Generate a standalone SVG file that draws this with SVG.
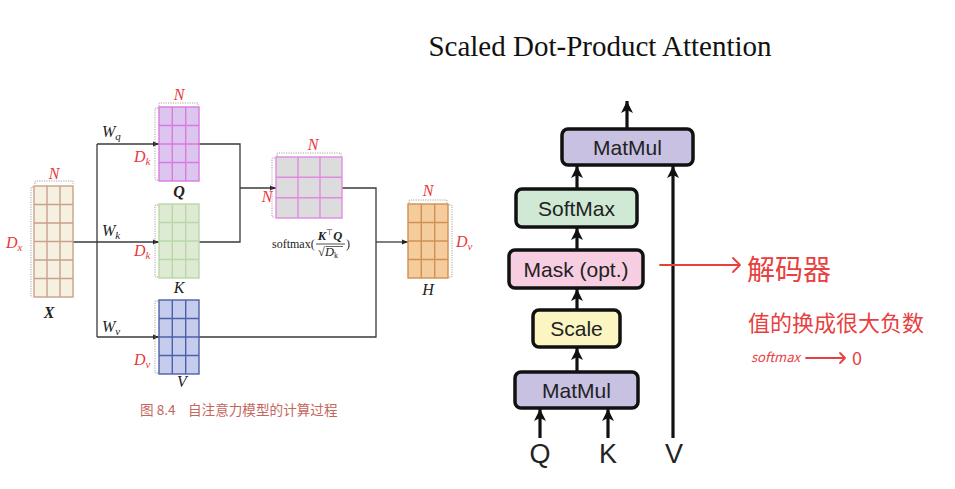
<svg xmlns="http://www.w3.org/2000/svg" width="955" height="489" viewBox="0 0 955 489">
<defs>
<style>
.conn{fill:none;stroke:#3a3a3a;stroke-width:1.3}
.br{fill:none;stroke:#9a9a9a;stroke-width:0.9;stroke-dasharray:1.2 1.2}
.red{fill:#e8383a;font-family:"Liberation Serif",serif;font-style:italic;font-size:16px}
.lbl{fill:#222;font-family:"Liberation Serif",serif;font-style:italic;font-size:16px}
.box{stroke:#111;stroke-width:3.5}
.bt{font-family:"Liberation Sans",Arial,sans-serif;font-size:21px;fill:#222;text-anchor:middle}
.thick{fill:none;stroke:#111;stroke-width:3.2}
.hand{fill:none;stroke:#e8403f;stroke-width:1.8;stroke-linecap:round;stroke-linejoin:round}
.ht{fill:#e8403f;font-family:"Noto Sans CJK SC",sans-serif}
</style>
<marker id="sa" markerUnits="userSpaceOnUse" markerWidth="8" markerHeight="8" refX="6" refY="3" orient="auto">
<path d="M0,0.5 L6,3 L0,5.5 z" fill="#222"/>
</marker>
<marker id="ba" markerUnits="userSpaceOnUse" markerWidth="14" markerHeight="14" refX="12" refY="6" orient="auto">
<path d="M0,0 L12,6 L0,12 L3,6 z" fill="#111"/>
</marker>
</defs>
<rect width="955" height="489" fill="#fff"/>

<!-- left connectors -->
<g id="left-connectors">
<path class="conn" d="M73,242 H159" marker-end="url(#sa)"/>
<path class="conn" d="M97,144 V337"/>
<path class="conn" d="M97,144 H159" marker-end="url(#sa)"/>
<path class="conn" d="M97,337 H159" marker-end="url(#sa)"/>
<path class="conn" d="M199,144 H240 V242 H199"/>
<path class="conn" d="M240,188 H276" marker-end="url(#sa)"/>
<path class="conn" d="M342,188 H376 V337 H199"/>
<path class="conn" d="M376,242 H408" marker-end="url(#sa)"/>
</g>

<g id="X">
<rect x="34" y="186" width="39" height="111" fill="#f6f0e1" stroke="#c9a08c" stroke-width="1.4"/>
<path d="M47,186V297M60,186V297M34,204.5H73M34,223H73M34,241.5H73M34,260H73M34,278.5H73" stroke="#c9a08c" stroke-width="1.4"/>
<path class="br" d="M35,184 V181 H73 V184"/>
<path class="br" d="M33,187 H31 V296 H33"/>
<text class="red" x="54" y="179" text-anchor="middle">N</text>
<text class="red" x="6" y="248">D<tspan font-size="11" dy="3">x</tspan></text>
<text class="lbl" x="49" y="318" font-weight="bold" text-anchor="middle">X</text>
</g>

<g id="Q">
<rect x="159" y="107" width="40" height="74" fill="#dcc6ef" stroke="#d97ade" stroke-width="1.4"/>
<path d="M172.3,107V181M185.7,107V181M159,125.5H199M159,144H199M159,162.5H199" stroke="#d97ade" stroke-width="1.4"/>
<path class="br" d="M159,106 V103 H198 V106"/>
<path class="br" d="M158,108 H155 V180 H158"/>
<text class="red" x="179" y="100" text-anchor="middle">N</text>
<text class="red" x="134" y="162">D<tspan font-size="11" dy="3">k</tspan></text>
<text class="lbl" x="179" y="197" font-weight="bold" text-anchor="middle">Q</text>
<text class="lbl" x="102" y="137">W<tspan font-size="11" dy="3">q</tspan></text>
</g>

<g id="K">
<rect x="159" y="204" width="40" height="74" fill="#dcebd1" stroke="#b9d7aa" stroke-width="1.4"/>
<path d="M172.3,204V278M185.7,204V278M159,222.5H199M159,241H199M159,259.5H199" stroke="#b9d7aa" stroke-width="1.4"/>
<path class="br" d="M158,205 H155 V277 H158"/>
<text class="red" x="134" y="256">D<tspan font-size="11" dy="3">k</tspan></text>
<text class="lbl" x="179" y="293" text-anchor="middle">K</text>
<text class="lbl" x="102" y="236">W<tspan font-size="11" dy="3">k</tspan></text>
</g>

<g id="V">
<rect x="159" y="300" width="40" height="74" fill="#c6cceb" stroke="#4d60a8" stroke-width="1.4"/>
<path d="M172.3,300V374M185.7,300V374M159,318.5H199M159,337H199M159,355.5H199" stroke="#4d60a8" stroke-width="1.4"/>
<path class="br" d="M158,301 H155 V373 H158"/>
<text class="red" x="134" y="365">D<tspan font-size="11" dy="3">v</tspan></text>
<text class="lbl" x="182" y="387" text-anchor="middle">V</text>
<text class="lbl" x="102" y="332">W<tspan font-size="11" dy="3">v</tspan></text>
</g>

<g id="A">
<rect x="276" y="157" width="66" height="61" fill="#dcdcdc" stroke="#e08ae3" stroke-width="1.4"/>
<path d="M298,157V218M320,157V218M276,177.3H342M276,197.7H342" stroke="#e08ae3" stroke-width="1.4"/>
<path class="br" d="M277,156 V153 H341 V156"/>
<path class="br" d="M275,158 H272 V217 H275"/>
<text class="red" x="313" y="150" text-anchor="middle">N</text>
<text class="red" x="267" y="202" text-anchor="middle">N</text>
<g font-family="Liberation Serif,serif" fill="#222">
<text x="272" y="248" font-size="12">softmax(</text>
<text x="330" y="240" font-size="12.5" font-style="italic" font-weight="bold" text-anchor="middle">K<tspan font-size="8" dy="-5" font-weight="normal" font-style="normal">⊤</tspan><tspan dy="5">Q</tspan></text>
<line x1="316" y1="244" x2="345" y2="244" stroke="#222" stroke-width="0.8"/>
<text x="318" y="256" font-size="12.5">√<tspan font-style="italic">D</tspan><tspan font-size="8" dy="2">k</tspan></text>
<path d="M325.5,246.5 H343" stroke="#222" stroke-width="0.7"/>
<text x="346" y="248" font-size="12">)</text>
</g>
</g>

<g id="H">
<rect x="408" y="204" width="40" height="74" fill="#f5cc9b" stroke="#cf9155" stroke-width="1.4"/>
<path d="M421.3,204V278M434.7,204V278M408,222.5H448M408,241H448M408,259.5H448" stroke="#cf9155" stroke-width="1.4"/>
<path class="br" d="M409,203 V200 H447 V203"/>
<path class="br" d="M449,205 H452 V277 H449"/>
<text class="red" x="428" y="196" text-anchor="middle">N</text>
<text class="red" x="456" y="247">D<tspan font-size="11" dy="3">v</tspan></text>
<text class="lbl" x="428" y="295" text-anchor="middle">H</text>
</g>

<g id="caption" font-family="'Noto Sans CJK SC',sans-serif" font-size="13.6" fill="#c4665e">
<text x="140" y="415">图 8.4</text>
<text x="188" y="415">自注意力模型的计算过程</text>
</g>

<!-- right side -->
<text x="600" y="56" font-family="Liberation Serif,serif" font-size="29" fill="#111" text-anchor="middle">Scaled Dot-Product Attention</text>

<g id="right-connectors">
<path class="thick" d="M627,129 V101" marker-end="url(#ba)"/>
<path class="thick" d="M577,189 V166" marker-end="url(#ba)"/>
<path class="thick" d="M577,250 V228" marker-end="url(#ba)"/>
<path class="thick" d="M577,310 V289" marker-end="url(#ba)"/>
<path class="thick" d="M577,372 V348" marker-end="url(#ba)"/>
<path class="thick" d="M540,438 V409" marker-end="url(#ba)"/>
<path class="thick" d="M608,438 V409" marker-end="url(#ba)"/>
<path class="thick" d="M673,438 V166" marker-end="url(#ba)"/>
</g>

<g id="matmul-top">
<rect class="box" x="562" y="129" width="131" height="36" rx="6" fill="#c8c1e1"/>
<text class="bt" x="627.5" y="154.5">MatMul</text>
</g>
<g id="softmax">
<rect class="box" x="516" y="189" width="121" height="38" rx="6" fill="#cfe9d5"/>
<text class="bt" x="576.5" y="215.5">SoftMax</text>
</g>
<g id="mask">
<rect class="box" x="509" y="250" width="134" height="38" rx="6" fill="#f7cde1"/>
<text class="bt" x="576" y="276.5">Mask (opt.)</text>
</g>
<g id="scale">
<rect class="box" x="533" y="310" width="87" height="37" rx="6" fill="#fbf6c1"/>
<text class="bt" x="576.5" y="336">Scale</text>
</g>
<g id="matmul-bottom">
<rect class="box" x="515" y="372" width="123" height="36" rx="6" fill="#c8c1e1"/>
<text class="bt" x="576.5" y="397.5">MatMul</text>
</g>
<g id="inputs" font-family="Liberation Sans,Arial,sans-serif" font-size="27" fill="#222" text-anchor="middle">
<text x="540" y="463">Q</text>
<text x="608" y="463">K</text>
<text x="674" y="463">V</text>
</g>

<g id="annotations">
<path class="hand" d="M660,265 H740 M733,258 L740,265 L733,272"/>
<text class="ht" x="747" y="280" font-size="28">解码器</text>
<text class="ht" x="748" y="331" font-size="22">值的换成很大负数</text>
<text class="ht" x="751" y="362" font-size="13" font-style="italic">softmax</text>
<path class="hand" d="M806,358 H845 M840,353 L845,358 L840,363" stroke-width="1.4"/>
<text class="ht" x="852" y="365" font-size="18">0</text>
</g>
</svg>
